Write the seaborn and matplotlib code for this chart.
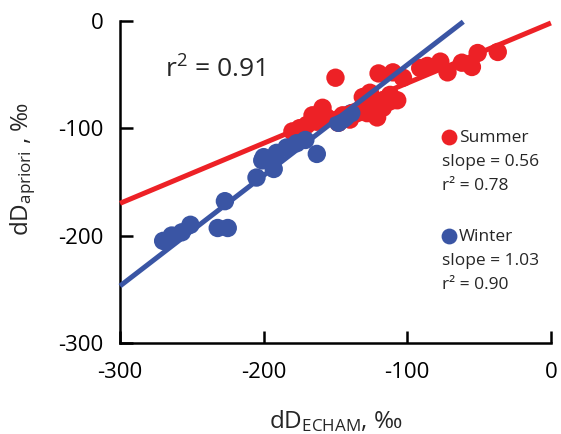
import matplotlib
matplotlib.use("Agg")
import matplotlib.pyplot as plt
import seaborn as sns
import numpy as np
import pandas as pd

# ---- data ----
summer_x = [-180, -175, -170, -166, -163, -159, -156, -150, -148, -145, -140, -135,
            -131, -128, -126, -124, -121, -120, -117, -117, -112, -112, -110, -107,
            -103, -91, -86, -77, -72, -62, -55, -51, -37]
summer_y = [-103, -100, -97, -88, -94, -81, -90, -53, -95, -88, -92, -86,
            -71, -86, -67, -75, -90, -49, -74, -81, -69, -75, -48, -74,
            -53, -44, -42, -38, -48, -39, -43, -30, -29]

winter_x = [-270, -264, -257, -251, -232, -225, -227, -205, -201, -200, -193, -191,
            -184, -177, -171, -163, -148, -145, -143, -139]
winter_y = [-205, -200, -197, -190, -193, -193, -168, -146, -130, -127, -138, -123,
            -118, -114, -111, -124, -95, -92, -90, -86]

seasons = ["Summer", "Winter"]
fit_slope = [0.56, 1.03]
fit_intercept = [-2, 62]
fit_xrange = [(-300, 0), (-300, -61)]
stats_slope = ["0.56", "1.03"]
stats_r2 = ["0.78", "0.90"]
overall_r2 = "0.91"

xticks = [-300, -200, -100, 0]
yticks = [-300, -200, -100, 0]

colors = {"Summer": "#ED2126", "Winter": "#3A55A4"}

# ---- style ----
sns.set_style("ticks")
plt.rcParams["font.family"] = ["Open Sans", "DejaVu Sans"]
plt.rcParams["mathtext.fontset"] = "custom"
plt.rcParams["mathtext.rm"] = "Open Sans"
plt.rcParams["mathtext.it"] = "Open Sans"

df = pd.DataFrame({
    "x": summer_x + winter_x,
    "y": summer_y + winter_y,
    "season": ["Summer"] * len(summer_x) + ["Winter"] * len(winter_x),
})

fig = plt.figure(figsize=(5.61, 4.34), dpi=100)
ax = fig.add_axes([0.214, 0.21, 0.768, 0.742])

sns.scatterplot(data=df, x="x", y="y", hue="season", palette=colors,
                s=175, linewidth=0, alpha=1, legend=False, ax=ax, zorder=3)

for season, m, b, (x0, x1) in zip(seasons, fit_slope, fit_intercept, fit_xrange):
    xx = np.array([x0, x1])
    ax.plot(xx, m * xx + b, color=colors[season], lw=3.6, zorder=4,
            solid_capstyle="butt", clip_on=False)

ax.set_xlim(-300, 0)
ax.set_ylim(-300, 0)
ax.set_xticks(xticks)
ax.set_yticks(yticks)
ax.set_xticklabels([str(t) for t in xticks])
ax.set_yticklabels([str(t) for t in yticks])

for side in ["top", "right"]:
    ax.spines[side].set_visible(False)
for side in ["left", "bottom"]:
    ax.spines[side].set_linewidth(1.8)
    ax.spines[side].set_color("black")

ax.tick_params(axis="both", direction="in", length=9, width=1.8,
               labelsize=16, colors="black")
ax.tick_params(axis="x", pad=14)
ax.tick_params(axis="y", pad=12)

ax.set_xlabel(r"dD$_{\mathrm{ECHAM}}$, ‰", fontsize=17.5, labelpad=18)
ax.set_ylabel(r"dD$_{\mathrm{apriori}}$ , ‰", fontsize=17.5)
ax.yaxis.set_label_coords(-0.19, 0.54)

ax.text(0.104, 0.848, r"r$^2$ = " + overall_r2, transform=ax.transAxes,
        fontsize=19, va="center", ha="left")

# stats legend
legend_y = [0.640, 0.332]
for season, ly, sl, r2 in zip(seasons, legend_y, stats_slope, stats_r2):
    ax.scatter([0.763], [ly], transform=ax.transAxes, s=130, color=colors[season],
               linewidth=0, clip_on=False, zorder=5)
    ax.text(0.786, ly - 0.004, season, transform=ax.transAxes, fontsize=12.5,
            va="center", ha="left")
    ax.text(0.748, ly - 0.077, "slope = " + sl, transform=ax.transAxes,
            fontsize=12.5, va="center", ha="left")
    ax.text(0.748, ly - 0.153, "r² = " + r2, transform=ax.transAxes,
            fontsize=12.5, va="center", ha="left")

fig.savefig("out.png", dpi=100)
